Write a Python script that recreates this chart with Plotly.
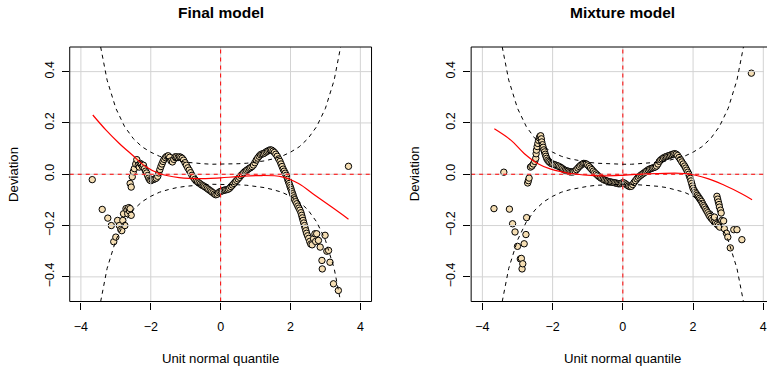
import plotly.graph_objects as go

# ---------------- data ----------------
# Left panel: "Final model" worm points (unit normal quantile, deviation)
final_z = [-3.675, -3.39, -3.23, -3.13, -3.06, -3.00, -2.95, -2.90, -2.86, -2.83, -2.80, -2.78, -2.74,
           -2.71, -2.68, -2.66, -2.63, -2.61, -2.59, -2.56, -2.59, -2.56, -2.53, -2.50, -2.47, -2.43,
           -2.40, -2.36, -2.33, -2.30, -2.27, -2.24, -2.21, -2.18, -2.15, -2.12, -2.09, -2.06, -2.03,
           -2.00, -1.96, -1.92, -1.88, -1.84, -1.80, -1.77, -1.74, -1.71, -1.68, -1.65, -1.62, -1.58,
           -1.54, -1.50, -1.46, -1.42, -1.38, -1.34, -1.30, -1.26, -1.22, -1.18, -1.14, -1.10, -1.06,
           -1.02, -0.98, -0.94, -0.90, -0.86, -0.82, -0.78, -0.74, -0.70, -0.66, -0.62, -0.58, -0.54,
           -0.50, -0.46, -0.42, -0.38, -0.34, -0.30, -0.26, -0.22, -0.18, -0.14, -0.10, -0.06, -0.02,
           0.02, 0.06, 0.10, 0.14, 0.18, 0.22, 0.26, 0.30, 0.34, 0.38, 0.42, 0.46, 0.50, 0.54, 0.58,
           0.62, 0.66, 0.70, 0.74, 0.78, 0.82, 0.86, 0.90, 0.94, 0.98, 1.02, 1.06, 1.10, 1.14, 1.18,
           1.22, 1.26, 1.30, 1.34, 1.38, 1.42, 1.46, 1.50, 1.54, 1.58, 1.62, 1.66, 1.70, 1.73, 1.76,
           1.79, 1.82, 1.85, 1.88, 1.90, 1.92, 1.94, 1.96, 1.98, 2.00, 2.02, 2.04, 2.06, 2.08, 2.10,
           2.12, 2.15, 2.18, 2.21, 2.24, 2.27, 2.30, 2.32, 2.34, 2.36, 2.38, 2.40, 2.42, 2.44, 2.46,
           2.49, 2.52, 2.55, 2.58, 2.62, 2.66, 2.70, 2.72, 2.75, 2.80, 2.85, 2.90, 2.91, 2.99, 3.04,
           3.09, 3.13, 3.23, 3.37, 3.66]
final_dev = [-0.021, -0.137, -0.171, -0.200, -0.263, -0.245, -0.180, -0.200, -0.215, -0.220, -0.180, -0.154, -0.200,
             -0.134, -0.140, -0.154, -0.130, -0.143, -0.134, -0.160, -0.036, -0.050, -0.010, 0.010, 0.022, 0.040,
             0.057, 0.035, 0.028, 0.042, 0.038, 0.030, 0.035, 0.022, 0.012, 0.005, -0.005, -0.015, -0.022,
             -0.025, -0.022, -0.020, -0.018, -0.015, -0.008, 0.005, 0.018, 0.030, 0.040, 0.050, 0.058, 0.065,
             0.070, 0.072, 0.066, 0.052, 0.048, 0.058, 0.068, 0.068, 0.065, 0.068, 0.066, 0.062, 0.055,
             0.045, 0.035, 0.025, 0.016, 0.006, -0.004, -0.012, -0.020, -0.026, -0.030, -0.034, -0.038, -0.042,
             -0.045, -0.048, -0.052, -0.056, -0.060, -0.064, -0.068, -0.072, -0.077, -0.080, -0.078, -0.072, -0.068,
             -0.066, -0.064, -0.062, -0.061, -0.060, -0.058, -0.054, -0.048, -0.042, -0.036, -0.030, -0.024, -0.018, -0.012, -0.005,
             0.000, 0.006, 0.011, 0.015, 0.019, 0.023, 0.026, 0.030, 0.036, 0.045, 0.055, 0.063, 0.070, 0.076, 0.079,
             0.080, 0.083, 0.087, 0.090, 0.093, 0.095, 0.094, 0.090, 0.085, 0.078, 0.070, 0.060, 0.050, 0.040, 0.030,
             0.020, 0.012, 0.004, -0.004, -0.012, -0.020, -0.028, -0.036, -0.044, -0.052, -0.060, -0.068, -0.076, -0.084, -0.092,
             -0.099, -0.107, -0.115, -0.124, -0.132, -0.140, -0.150, -0.160, -0.170, -0.180, -0.190, -0.200, -0.210, -0.220, -0.230,
             -0.240, -0.250, -0.262, -0.272, -0.275, -0.251, -0.232, -0.262, -0.232, -0.258, -0.284, -0.336, -0.369, -0.238, -0.300,
             -0.297, -0.343, -0.427, -0.453, 0.031]

# Right panel: "Mixture model" worm points
mix_z = [-3.67, -3.39, -3.23, -3.14, -3.07, -3.00, -2.92, -2.89, -2.87, -2.85, -2.81, -2.76, -2.74,
         -2.71, -2.69, -2.67, -2.63, -2.59, -2.55, -2.51, -2.48, -2.47, -2.46, -2.44, -2.42, -2.40,
         -2.38, -2.36, -2.34, -2.32, -2.31, -2.29, -2.27, -2.25, -2.23, -2.21, -2.19, -2.17, -2.14,
         -2.11, -2.08, -2.04, -2.00, -1.96, -1.92, -1.88, -1.84, -1.80, -1.76, -1.72, -1.68, -1.64,
         -1.60, -1.56, -1.52, -1.48, -1.44, -1.40, -1.36, -1.32, -1.28, -1.24, -1.20, -1.16, -1.12,
         -1.08, -1.04, -1.00, -0.96, -0.92, -0.88, -0.84, -0.80, -0.76, -0.72, -0.68, -0.64, -0.60,
         -0.56, -0.52, -0.48, -0.44, -0.40, -0.36, -0.32, -0.28, -0.24, -0.20, -0.16, -0.12, -0.08,
         -0.04, 0.00, 0.04, 0.08, 0.12, 0.16, 0.20, 0.24, 0.28, 0.32, 0.36, 0.40, 0.44, 0.48, 0.52,
         0.56, 0.60, 0.64, 0.68, 0.72, 0.76, 0.80, 0.84, 0.88, 0.92, 0.96, 1.00, 1.04, 1.08, 1.12,
         1.16, 1.20, 1.24, 1.28, 1.32, 1.36, 1.40, 1.44, 1.48, 1.52, 1.56, 1.60, 1.64, 1.68, 1.72,
         1.76, 1.79, 1.82, 1.85, 1.88, 1.90, 1.92, 1.94, 1.96, 1.98, 2.00, 2.03, 2.06, 2.09, 2.12,
         2.15, 2.18, 2.21, 2.24, 2.27, 2.30, 2.33, 2.36, 2.39, 2.42, 2.45, 2.48, 2.52, 2.56, 2.60,
         2.64, 2.68, 2.72, 2.76, 2.61, 2.68, 2.70, 2.72, 2.74, 2.75, 2.78, 2.80, 2.82, 2.87, 2.89,
         2.95, 2.99, 3.06, 3.16, 3.25, 3.39, 3.66]
mix_dev = [-0.134, 0.008, -0.136, -0.193, -0.225, -0.281, -0.330, -0.328, -0.369, -0.349, -0.271, -0.235, -0.169,
           -0.034, -0.025, -0.015, 0.028, 0.032, 0.040, 0.050, 0.062, 0.080, 0.094, 0.108, 0.120, 0.132,
           0.142, 0.148, 0.150, 0.138, 0.126, 0.115, 0.105, 0.095, 0.087, 0.078, 0.070, 0.062, 0.055,
           0.050, 0.046, 0.042, 0.040, 0.038, 0.036, 0.034, 0.032, 0.029, 0.026, 0.022, 0.018, 0.015,
           0.013, 0.012, 0.010, 0.009, 0.009, 0.010, 0.013, 0.018, 0.024, 0.030, 0.035, 0.039, 0.042,
           0.042, 0.040, 0.036, 0.030, 0.024, 0.018, 0.012, 0.006, 0.001, -0.004, -0.009, -0.013, -0.017,
           -0.020, -0.023, -0.025, -0.027, -0.029, -0.030, -0.031, -0.032, -0.033, -0.034, -0.036, -0.037, -0.037,
           -0.035, -0.033, -0.034, -0.038, -0.042, -0.046, -0.048, -0.047, -0.040, -0.032, -0.025, -0.018, -0.012, -0.007, -0.003,
           0.001, 0.005, 0.009, 0.013, 0.017, 0.020, 0.022, 0.024, 0.026, 0.028, 0.032, 0.040, 0.050, 0.056, 0.060,
           0.064, 0.067, 0.069, 0.071, 0.073, 0.075, 0.077, 0.079, 0.080, 0.078, 0.073, 0.065, 0.057, 0.048, 0.040,
           0.032, 0.024, 0.016, 0.008, 0.000, -0.008, -0.016, -0.026, -0.036, -0.046, -0.055, -0.063, -0.070, -0.076, -0.082,
           -0.088, -0.094, -0.100, -0.106, -0.114, -0.122, -0.128, -0.136, -0.143, -0.150, -0.158, -0.165, -0.172, -0.178, -0.185,
           -0.190, -0.195, -0.200, -0.206, -0.167, -0.086, -0.097, -0.108, -0.118, -0.128, -0.140, -0.151, -0.180, -0.182, -0.212,
           -0.230, -0.245, -0.287, -0.216, -0.216, -0.255, 0.394]

# Fitted cubic curves (red), read at several quantiles
final_fit_z = [-3.66, -3.28, -2.90, -2.52, -2.14, -1.76, -1.19, -0.43, 0.00, 0.50, 1.09, 1.76, 2.23, 2.70, 3.18, 3.66]
final_fit_dev = [0.231, 0.172, 0.120, 0.074, 0.029, 0.003, -0.013, -0.017, -0.014, -0.009, -0.005, -0.010, -0.036, -0.082, -0.128, -0.175]
mix_fit_z = [-3.66, -3.19, -2.81, -2.43, -2.05, -1.48, -0.72, 0.00, 0.70, 1.00, 1.76, 2.42, 2.89, 3.37, 3.68]
mix_fit_dev = [0.177, 0.133, 0.081, 0.042, 0.020, 0.003, -0.006, -0.004, 0.002, 0.003, 0.003, -0.017, -0.043, -0.075, -0.099]

# Confidence band (black dashed), read at quantiles
band_z = [-4.0, -3.75, -3.5, -3.25, -3.0, -2.75, -2.5, -2.25, -2.0, -1.75, -1.5, -1.25, -1.0, -0.75, -0.5, -0.25,
          0.0, 0.25, 0.5, 0.75, 1.0, 1.25, 1.5, 1.75, 2.0, 2.25, 2.5, 2.75, 3.0, 3.25, 3.5, 3.75, 4.0]
band_high = [1.303, 0.826, 0.542, 0.367, 0.257, 0.186, 0.139, 0.107, 0.086, 0.070, 0.060, 0.052, 0.047, 0.043, 0.041, 0.039,
             0.039, 0.039, 0.041, 0.043, 0.047, 0.052, 0.060, 0.070, 0.086, 0.107, 0.139, 0.186, 0.257, 0.367, 0.542, 0.826, 1.303]
band_low = [-1.303, -0.826, -0.542, -0.367, -0.257, -0.186, -0.139, -0.107, -0.086, -0.070, -0.060, -0.052, -0.047, -0.043, -0.041, -0.039,
            -0.039, -0.039, -0.041, -0.043, -0.047, -0.052, -0.060, -0.070, -0.086, -0.107, -0.139, -0.186, -0.257, -0.367, -0.542, -0.826, -1.303]

x_ticks = [-4, -2, 0, 2, 4]
x_ticktext = ["\u22124", "\u22122", "0", "2", "4"]
y_ticks = [-0.4, -0.2, 0.0, 0.2, 0.4]
y_ticktext = ["\u22120.4", "\u22120.2", "0.0", "0.2", "0.4"]

titles = ["Final model", "Mixture model"]
xlab = "Unit normal quantile"
ylab = "Deviation"

# ---------------- layout constants ----------------
W, H = 767, 369
FONT = "Liberation Sans, Arial, Helvetica, sans-serif"
def px(x):
    return x / W
def py(y):
    return 1 - y / H

Y0, Y1 = py(301.5), py(47)
dom_left = [px(70), px(373)]
dom_right = [px(473), 1.0]
xr_left = [-4.32, 4.32]
xr_right = [-4.32, 4.02]
yr = [-0.496, 0.496]
GRID = "#D3D3D3"
DASH = "4px,4px"

fig = go.Figure()

panels = [
    ("x", "y", final_z, final_dev, final_fit_z, final_fit_dev, xr_left),
    ("x2", "y2", mix_z, mix_dev, mix_fit_z, mix_fit_dev, xr_right),
]

def line_trace(x, y, xa, ya, **line):
    return go.Scatter(x=x, y=y, mode="lines", xaxis=xa, yaxis=ya, line=line,
                      showlegend=False, hoverinfo="skip", cliponaxis=True)

for xa, ya, zz, dd, fz, fd, xr in panels:
    # points
    fig.add_trace(go.Scatter(x=zz, y=dd, mode="markers", xaxis=xa, yaxis=ya,
                             marker=dict(size=6.4, color="#F5DEB3",
                                         line=dict(color="black", width=1)),
                             showlegend=False, hoverinfo="skip"))
    # grid drawn over the points
    for t in y_ticks:
        fig.add_trace(line_trace([xr[0], xr[1]], [t, t], xa, ya, color=GRID, width=1))
    for t in x_ticks:
        fig.add_trace(line_trace([t, t], [yr[0], yr[1]], xa, ya, color=GRID, width=1))
    # red reference lines
    fig.add_trace(line_trace([xr[0], xr[1]], [0, 0], xa, ya, color="red", width=1, dash=DASH))
    fig.add_trace(line_trace([0, 0], [yr[0], yr[1]], xa, ya, color="red", width=1, dash=DASH))
    # confidence band
    fig.add_trace(line_trace(band_z, band_high, xa, ya, color="black", width=1, dash=DASH))
    fig.add_trace(line_trace(band_z, band_low, xa, ya, color="black", width=1, dash=DASH))
    # fitted curve
    fig.add_trace(line_trace(fz, fd, xa, ya, color="red", width=1.2, shape="spline", smoothing=1.0))

shapes = [
    dict(type="rect", xref="paper", yref="paper", x0=dom_left[0], x1=dom_left[1],
         y0=Y0, y1=Y1, line=dict(color="black", width=1), layer="above"),
    dict(type="rect", xref="paper", yref="paper", x0=dom_right[0], x1=1.03,
         y0=Y0, y1=Y1, line=dict(color="black", width=1), layer="above"),
]

axis_common = dict(showgrid=False, zeroline=False, showline=False, ticks="outside", ticklen=7,
                   tickwidth=1, tickcolor="black", tickfont=dict(family=FONT, size=12.5, color="black"),
                   fixedrange=True, ticklabeloverflow="allow")

fig.update_layout(
    width=W, height=H, margin=dict(l=0, r=0, t=0, b=0),
    paper_bgcolor="white", plot_bgcolor="white",
    font=dict(family=FONT, size=12, color="black"),
    xaxis=dict(domain=dom_left, range=xr_left, anchor="y", tickvals=x_ticks, ticktext=x_ticktext,
               ticklabelstandoff=6, **axis_common),
    yaxis=dict(domain=[Y0, Y1], range=yr, anchor="x", tickvals=y_ticks, ticktext=y_ticktext,
               tickangle=-90, ticklabelstandoff=3, **axis_common),
    xaxis2=dict(domain=dom_right, range=xr_right, anchor="y2", tickvals=x_ticks, ticktext=x_ticktext,
                ticklabelstandoff=6, **axis_common),
    yaxis2=dict(domain=[Y0, Y1], range=yr, anchor="x2", tickvals=y_ticks, ticktext=y_ticktext,
                tickangle=-90, ticklabelstandoff=3, **axis_common),
    shapes=shapes,
)

centers = [px(221.5), px(625)]
ylab_x = [px(13), px(416)]
for i in range(2):
    fig.add_annotation(text=f"<b>{titles[i]}</b>", xref="paper", yref="paper", x=centers[i], y=py(13),
                       showarrow=False, xanchor="center", yanchor="middle",
                       font=dict(family=FONT, size=15.5, color="black"))
    fig.add_annotation(text=xlab, xref="paper", yref="paper", x=centers[i], y=py(358),
                       showarrow=False, xanchor="center", yanchor="middle",
                       font=dict(family=FONT, size=13.2, color="black"))
    fig.add_annotation(text=ylab, xref="paper", yref="paper", x=ylab_x[i], y=py(174),
                       showarrow=False, xanchor="center", yanchor="middle", textangle=-90,
                       font=dict(family=FONT, size=13.2, color="black"))

fig.write_html("out.html")
